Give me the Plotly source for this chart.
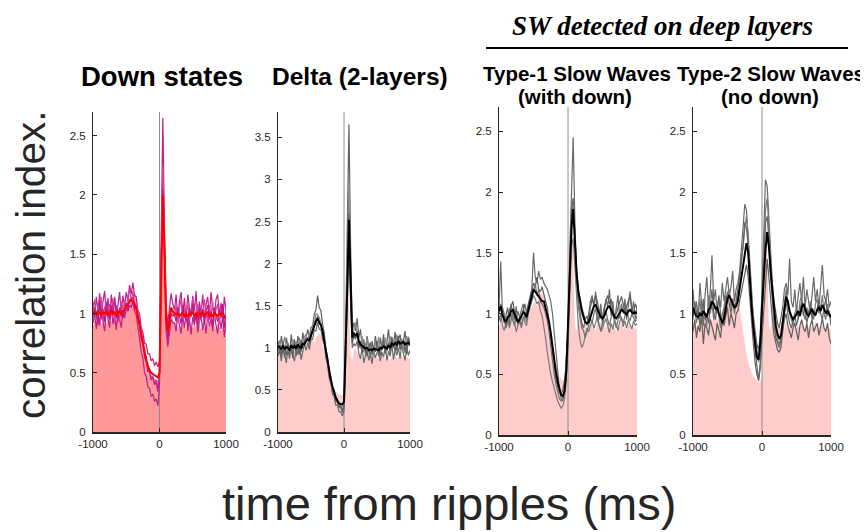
import plotly.graph_objects as go

# page body adds an 8px margin, so the figure is drawn 8px smaller and all pixel positions shifted
PAGE_OFF = 8
W, H = 868 - PAGE_OFF, 532 - PAGE_OFF
time_ms = list(range(-1000, 1001, 25))

# reference curve drawn as filled background in every panel
fill_ref = [0.9,0.95,0.88,0.92,0.97,0.9,0.94,0.98,0.91,0.95,0.99,0.93,0.96,1.0,0.94,0.98,1.02,0.97,1.03,
            1.05,1.08,1.1,1.06,1.12,1.15,1.18,
            1.15,1.05,0.95,0.85,0.74,0.66,0.6,0.55,0.51,0.48,0.46,0.45,0.44,0.44,
            0.48,1.45,2.02,1.5,0.9,0.86,0.96,1.0,0.95,
            0.9,0.93,0.87,0.92,0.88,0.94,0.9,0.86,0.92,0.89,0.93,0.87,0.91,0.88,0.94,0.9,0.86,0.92,0.89,0.85,
            0.91,0.88,0.93,0.87,0.9,0.86,0.92,0.88,0.85,0.9,0.87,0.88]

# Panel 1: Down states
down_lines = [
    [1.1,0.97,1.14,1.02,1.17,0.95,1.1,1.19,0.99,1.13,0.96,1.16,1.03,1.14,0.96,1.1,1.18,1.01,1.15,
     1.06,1.18,1.1,1.24,1.16,1.26,1.15,
     1.14,1.02,1.0,0.88,0.84,0.75,0.74,0.66,0.66,0.6,0.62,0.56,0.59,0.55,
     0.6,1.6,2.65,1.7,1.05,0.92,1.05,1.17,1.08,
     1.03,1.16,0.96,1.1,1.18,0.99,1.13,0.94,1.16,1.05,0.97,1.15,1.02,1.19,0.95,1.1,1.0,1.16,0.94,1.08,
     1.14,0.97,1.18,1.04,0.96,1.12,1.16,0.99,1.09,0.95,1.14,1.02],
    [0.92,1.0,0.87,1.02,0.9,1.06,0.93,0.85,1.03,0.95,0.88,1.05,0.91,0.99,0.86,1.02,0.94,0.88,1.03,
     0.96,1.04,1.02,1.07,1.05,1.1,1.02,
     0.99,0.88,0.82,0.68,0.62,0.5,0.47,0.38,0.37,0.3,0.32,0.26,0.28,0.22,
     0.4,1.3,2.3,1.5,0.85,0.72,0.85,0.95,0.92,
     0.92,0.85,0.99,0.9,0.83,0.98,0.88,1.0,0.85,0.95,0.82,0.97,0.9,1.0,0.84,0.93,0.98,0.86,0.95,0.83,
     0.99,0.89,0.96,0.85,1.0,0.9,0.83,0.97,0.87,0.98,0.8,0.93],
    [1.03,1.12,0.95,1.07,1.0,1.14,0.93,1.05,1.1,0.96,1.08,1.0,1.13,0.92,1.07,1.01,0.95,1.1,1.04,
     1.1,1.03,1.15,1.2,1.1,1.19,1.08,
     1.08,0.98,0.94,0.82,0.78,0.66,0.64,0.54,0.54,0.46,0.47,0.42,0.44,0.38,
     0.45,1.5,2.25,1.6,1.0,0.82,0.95,1.05,1.0,
     0.97,1.07,0.92,1.04,1.12,0.95,1.05,0.98,1.1,0.93,1.03,1.13,0.95,1.02,1.08,0.92,1.05,0.97,1.12,1.0,
     0.93,1.07,0.98,1.1,0.95,1.03,1.08,0.92,1.05,1.0,0.95,1.03],
    [0.97,1.05,1.0,0.9,1.1,0.98,1.04,0.93,1.08,1.0,0.95,1.07,0.98,1.12,1.01,0.93,1.05,1.0,0.96,
     1.02,1.09,1.02,1.12,1.12,1.13,1.04,
     1.05,0.94,0.9,0.78,0.74,0.63,0.6,0.51,0.51,0.44,0.46,0.4,0.42,0.34,
     0.5,1.4,2.05,1.45,0.9,0.78,0.9,1.0,0.98,
     1.0,0.93,1.05,0.98,0.91,1.07,0.96,1.02,0.9,1.04,0.98,1.08,0.93,1.0,0.88,1.05,0.96,1.04,0.91,1.02,
     1.07,0.95,1.0,0.9,1.05,0.98,0.93,1.04,0.96,1.08,0.88,0.98],
]
down_mean = [1.0,1.01,0.99,1.02,1.0,0.99,1.01,1.0,1.02,0.99,1.0,1.03,1.0,1.01,0.98,1.02,1.01,0.99,1.02,
             1.04,1.07,1.08,1.1,1.11,1.1,1.08,
             1.04,0.98,0.9,0.82,0.74,0.67,0.61,0.56,0.52,0.5,0.49,0.48,0.47,0.46,
             0.5,1.45,2.0,1.55,0.95,0.85,0.95,1.05,1.02,
             1.0,0.99,1.0,0.98,0.99,1.01,0.98,1.0,0.97,1.0,0.99,1.01,0.98,1.0,0.97,1.0,0.99,1.01,0.98,1.0,
             1.01,0.98,1.0,0.97,1.01,0.99,0.98,1.0,0.99,1.01,0.97,0.98]

# Panel 2: Delta (2-layers)
delta_lines = [
    [1.08,0.93,1.14,1.0,0.88,1.12,1.03,0.92,1.16,0.99,1.1,0.9,1.14,1.04,0.95,1.18,1.06,1.12,1.22,
     1.12,1.24,1.26,1.4,1.45,1.62,1.48,
     1.44,1.28,1.18,0.98,0.9,0.72,0.67,0.53,0.5,0.4,0.39,0.3,0.3,0.23,
     0.3,1.2,2.4,3.65,2.2,1.2,1.3,1.2,1.35,
     1.12,1.22,1.0,1.1,0.92,1.14,0.99,0.88,1.08,0.96,1.14,1.02,0.9,1.12,0.99,1.16,0.93,1.07,1.22,0.99,
     1.13,1.04,1.19,0.96,1.1,1.16,0.99,1.08,1.2,0.92,1.13,1.06],
    [0.9,0.99,0.84,1.01,0.93,0.82,0.97,0.87,1.04,0.91,0.84,1.0,0.92,1.02,0.86,0.96,1.05,0.97,1.06,
     0.98,1.1,1.1,1.21,1.2,1.3,1.22,
     1.22,1.1,1.04,0.88,0.8,0.64,0.58,0.45,0.42,0.32,0.32,0.24,0.24,0.19,
     0.25,0.8,1.6,2.3,1.5,1.0,1.05,1.02,1.08,
     0.93,0.87,1.01,0.82,0.93,0.99,0.85,0.92,0.81,0.97,0.88,0.93,1.0,0.84,0.95,0.89,1.02,0.85,0.96,0.9,
     1.04,0.86,0.98,0.91,1.0,0.87,1.05,0.93,0.85,1.01,0.91,0.97],
    [1.0,1.09,0.95,1.05,1.13,0.98,1.06,1.0,0.92,1.1,1.01,1.08,0.96,1.12,1.03,1.0,1.13,1.16,1.08,
     1.17,1.08,1.25,1.28,1.4,1.4,1.36,
     1.3,1.24,1.08,0.98,0.81,0.74,0.6,0.55,0.44,0.42,0.34,0.35,0.28,0.3,
     0.34,1.0,2.0,3.0,1.9,1.15,1.22,1.3,1.12,
     1.07,0.99,1.14,0.95,1.04,1.11,0.96,1.06,1.0,0.93,1.09,0.99,1.13,0.95,1.06,1.01,1.12,0.96,1.04,1.14,
     0.99,1.09,0.98,1.16,1.05,0.99,1.11,0.96,1.07,1.14,1.02,1.09],
    [0.97,1.03,0.9,1.07,0.99,0.91,1.05,0.95,1.0,0.88,1.06,0.97,1.02,0.92,1.09,0.99,1.03,1.1,1.12,
     1.04,1.16,1.18,1.27,1.28,1.38,1.28,
     1.27,1.16,1.1,0.93,0.84,0.68,0.62,0.49,0.46,0.36,0.36,0.29,0.31,0.25,
     0.32,0.95,1.8,2.6,1.7,1.05,1.15,1.1,1.2,
     1.0,1.08,0.94,1.03,0.97,0.9,1.0,1.06,0.92,1.02,0.95,1.08,0.99,0.91,1.03,1.09,0.95,1.0,1.06,0.94,
     1.11,1.01,0.97,1.07,1.14,0.98,1.04,1.1,0.94,1.06,1.11,1.02],
]
delta_mean = [1.02,1.0,0.99,1.03,0.98,1.01,1.0,0.97,1.03,1.0,1.02,0.99,1.04,1.01,1.0,1.05,1.04,1.08,1.1,
              1.09,1.14,1.2,1.26,1.32,1.35,1.3,
              1.27,1.2,1.08,0.96,0.84,0.72,0.62,0.54,0.47,0.41,0.37,0.34,0.33,0.33,
              0.36,0.95,1.7,2.52,1.75,1.12,1.18,1.14,1.17,
              1.08,1.04,1.02,1.0,0.99,1.0,0.97,0.98,0.97,0.99,0.98,0.98,0.97,1.0,0.99,1.02,1.0,0.99,1.03,1.0,
              1.05,1.03,1.06,1.04,1.08,1.05,1.06,1.07,1.04,1.05,1.06,1.04]

# Panel 3: Type-1 slow waves (with down)
sw1_lines = [
    [1.05,1.43,1.0,0.92,0.98,1.05,0.9,1.08,1.0,0.95,1.06,0.9,0.98,1.03,1.08,0.96,1.02,1.1,1.15,
     1.2,1.5,1.3,1.25,1.35,1.28,1.3,
     1.25,1.22,1.2,1.15,1.1,1.0,0.85,0.68,0.5,0.38,0.3,0.28,0.35,0.6,
     0.9,1.5,2.1,2.45,1.75,1.3,1.1,1.0,0.92,
     0.88,0.95,0.9,1.0,1.1,1.15,1.05,1.18,1.0,0.95,1.08,0.9,1.02,1.12,1.05,1.2,0.98,1.1,0.94,1.05,
     1.15,0.96,1.08,1.0,1.12,0.95,1.06,1.18,1.0,1.1,0.96,1.05],
    [0.95,1.0,0.9,0.86,0.92,0.98,0.88,0.95,1.0,0.92,0.85,0.9,0.94,0.88,0.97,0.93,0.9,1.0,1.05,
     1.1,1.15,1.12,1.08,1.1,1.02,0.98,
     0.9,0.8,0.68,0.58,0.5,0.44,0.38,0.33,0.28,0.25,0.22,0.24,0.3,0.45,
     0.7,1.15,1.55,1.62,1.35,1.1,0.9,0.78,0.72,
     0.75,0.82,0.88,0.85,0.9,0.95,0.88,0.92,0.98,0.9,0.85,0.88,0.93,0.96,0.9,0.84,0.92,0.87,0.95,0.9,
     0.86,0.93,0.97,0.89,0.94,0.88,0.95,0.91,0.87,0.94,0.9,0.92],
    [1.0,1.08,1.02,0.97,0.9,0.95,1.03,1.06,1.1,1.02,0.98,0.94,0.92,0.97,1.04,1.08,1.0,1.06,1.12,
     1.18,1.25,1.22,1.3,1.2,1.18,1.22,
     1.15,1.1,1.05,0.95,0.82,0.68,0.56,0.46,0.4,0.35,0.34,0.37,0.45,0.6,
     0.85,1.35,1.85,1.95,1.65,1.35,1.2,1.12,1.05,
     1.0,0.95,0.98,0.94,1.05,1.12,1.08,1.15,1.1,1.03,1.0,0.97,1.05,1.1,1.15,1.08,1.12,1.02,0.98,1.0,
     1.05,1.1,1.14,1.08,1.02,1.06,1.1,1.15,1.05,1.0,1.08,1.04],
    [0.98,0.93,1.05,1.0,0.88,0.92,0.96,1.0,0.94,0.9,0.97,1.02,0.96,0.9,0.95,1.0,0.93,1.04,1.1,
     1.12,1.18,1.25,1.15,1.2,1.1,1.08,
     1.05,1.0,0.94,0.85,0.72,0.6,0.5,0.42,0.36,0.3,0.28,0.3,0.38,0.5,
     0.78,1.25,1.75,1.9,1.55,1.25,1.05,0.95,0.88,
     0.86,0.8,0.85,0.9,0.96,0.92,1.0,1.04,0.95,0.9,0.86,0.92,0.98,1.02,0.95,0.9,0.97,1.0,0.93,0.88,
     0.95,1.0,0.96,0.92,0.98,1.04,0.97,0.94,1.0,0.96,0.93,0.98],
]
sw1_mean = [1.02,1.06,0.99,0.95,0.93,0.97,0.98,1.02,1.03,0.99,0.96,0.93,0.95,0.98,1.01,1.0,0.97,1.03,1.08,
            1.15,1.2,1.18,1.16,1.14,1.12,1.1,
            1.1,1.05,1.0,0.93,0.84,0.72,0.62,0.52,0.44,0.37,0.33,0.32,0.36,0.52,
            0.85,1.3,1.7,1.86,1.6,1.33,1.18,1.08,1.02,
            0.97,0.93,0.92,0.93,0.97,1.02,1.06,1.07,1.04,1.0,0.97,0.96,0.98,1.02,1.05,1.06,1.03,0.99,0.97,0.96,
            0.98,1.01,1.03,1.02,1.0,0.99,1.02,1.03,1.01,1.0,1.01,1.0]

# Panel 4: Type-2 slow waves (no down)
sw2_lines = [
    [1.2,1.0,1.1,0.95,1.25,1.05,0.9,1.15,1.3,1.05,1.18,1.48,1.1,1.2,1.0,1.15,1.05,1.25,1.1,
     1.2,1.3,1.15,1.22,1.35,1.1,1.2,
     1.25,1.35,1.5,1.7,1.9,1.85,1.6,1.35,1.15,0.98,0.85,0.75,0.7,0.82,
     1.2,1.6,2.1,2.05,1.8,1.45,1.25,1.1,1.0,
     0.92,0.88,0.95,1.05,1.2,1.25,1.15,1.45,1.1,1.05,1.2,1.0,1.15,1.25,1.1,1.3,1.05,1.2,1.1,1.0,
     1.15,1.3,1.1,1.2,1.05,1.25,1.4,1.15,1.1,1.2,1.05,1.1],
    [0.85,0.95,0.8,0.9,0.85,0.98,0.75,0.92,0.88,0.82,0.95,0.9,0.85,0.78,0.92,0.87,0.8,0.95,0.9,
     0.98,1.05,0.9,1.0,0.95,0.88,1.0,
     1.02,1.1,1.18,1.25,1.35,1.4,1.3,1.1,0.92,0.75,0.6,0.5,0.45,0.55,
     0.8,1.05,1.3,1.45,1.3,1.1,0.95,0.82,0.75,
     0.7,0.68,0.72,0.85,0.95,1.0,0.9,0.85,0.8,0.88,0.92,0.85,0.78,0.9,0.95,0.88,0.85,0.92,0.8,0.9,
     0.95,0.85,0.88,0.92,0.82,0.9,0.96,0.88,0.85,0.92,0.8,0.75],
    [1.1,1.05,0.92,1.0,1.12,0.95,1.08,1.0,0.9,1.15,1.0,1.08,0.95,1.02,1.1,0.98,0.88,1.0,1.05,
     1.15,1.1,1.2,1.05,1.1,1.0,1.08,
     1.15,1.28,1.4,1.55,1.7,1.8,1.65,1.4,1.15,0.95,0.8,0.68,0.6,0.68,
     0.95,1.4,1.85,1.95,1.7,1.4,1.15,0.95,0.85,
     0.78,0.75,0.8,0.95,1.1,1.2,1.05,1.0,0.95,0.9,1.0,1.05,0.95,1.1,1.15,1.0,0.95,1.05,0.98,1.1,
     1.02,0.95,1.08,1.12,1.0,1.05,1.15,1.0,0.95,1.08,1.0,0.95],
    [0.95,1.1,1.0,1.05,0.9,1.02,1.12,0.95,1.0,0.92,1.08,1.2,1.0,0.95,1.05,1.12,1.0,0.9,1.02,
     1.1,1.18,1.08,1.0,1.12,1.05,1.1,
     1.2,1.3,1.45,1.55,1.75,1.7,1.55,1.3,1.05,0.85,0.7,0.55,0.45,0.6,
     0.9,1.35,1.75,1.8,1.6,1.3,1.1,0.92,0.8,
     0.75,0.72,0.78,0.9,1.0,1.1,1.0,0.92,0.88,0.95,1.0,0.9,0.95,1.02,1.1,0.98,1.05,0.92,1.0,1.08,
     0.95,1.02,0.98,1.05,1.1,1.0,0.95,1.05,1.12,0.98,1.02,0.9],
]
sw2_mean = [1.05,1.0,0.98,0.97,1.0,0.98,1.02,1.0,0.97,1.03,1.05,1.1,1.08,1.04,1.05,1.0,0.95,0.92,0.96,
            1.05,1.12,1.15,1.12,1.08,1.05,1.06,
            1.1,1.2,1.3,1.4,1.52,1.58,1.5,1.22,1.05,0.88,0.74,0.64,0.62,0.76,
            1.05,1.3,1.52,1.67,1.55,1.35,1.2,1.0,0.9,
            0.83,0.79,0.82,0.92,1.05,1.14,1.1,1.02,0.98,0.95,0.97,1.0,1.02,0.98,1.05,1.08,1.03,1.0,0.98,1.01,
            1.04,1.0,0.99,1.03,1.05,1.02,1.07,1.04,1.0,1.02,0.99,0.97]

panel_titles = [["Down states"], ["Delta (2-layers)"],
                ["Type-1 Slow Waves", "(with down)"], ["Type-2 Slow Waves", "(no down)"]]
y_max = [2.7, 3.8, 2.7, 2.7]
y_tick_vals = [[0, 0.5, 1, 1.5, 2, 2.5], [0, 0.5, 1, 1.5, 2, 2.5, 3, 3.5],
               [0, 0.5, 1, 1.5, 2, 2.5], [0, 0.5, 1, 1.5, 2, 2.5]]
x_tick_vals = [-1000, 0, 1000]
group_title = "SW detected on deep layers"
y_label = "correlation index."
x_label = "time from ripples (ms)"

panels = [
    (down_lines, down_mean),
    (delta_lines, delta_mean),
    (sw1_lines, sw1_mean),
    (sw2_lines, sw2_mean),
]
for lines, mean in panels:
    for s in lines + [mean]:
        assert len(s) == len(time_ms), len(s)
assert len(fill_ref) == len(time_ms)

# ---- styling / layout (target pixel positions in the 868x532 window) ----
boxes = [(93, 226, 112, 432), (278, 410, 112, 432), (499, 637, 107, 435), (693, 831, 107, 435)]
fill_colors = ["#FF9999", "#FFCCCC", "#FFCCCC", "#FFCCCC"]
line_colors = [["#C8198E", "#C2208A", "#D0489E", "#BE1A86"], ["#5E5E5E", "#6A6A6A", "#8A8A8A", "#606060"],
               ["#6A6A6A", "#7A7A7A", "#5E5E5E", "#707070"], ["#6A6A6A", "#5E5E5E", "#787878", "#666666"]]
mean_colors = ["#FF0000", "#000000", "#000000", "#000000"]
FONT = "Liberation Sans, Arial, Helvetica, sans-serif"
AX = "#262626"


def px_x(x):
    return (x - PAGE_OFF) / W


def px_y(y):
    return 1 - (y - PAGE_OFF) / H


fig = go.Figure()
layout = dict(width=W, height=H, margin=dict(l=0, r=0, t=0, b=0, pad=0, autoexpand=False),
              paper_bgcolor="white", plot_bgcolor="white", showlegend=False,
              font=dict(family=FONT, color=AX))

for k, (lines, mean) in enumerate(panels):
    n = "" if k == 0 else str(k + 1)
    xa, ya = "x" + n, "y" + n
    x0, x1, y0, y1 = boxes[k]
    fig.add_trace(go.Scatter(x=time_ms, y=fill_ref, mode="lines", fill="tozeroy",
                             fillcolor=fill_colors[k], line=dict(width=0, color=fill_colors[k]),
                             xaxis=xa, yaxis=ya, hoverinfo="skip"))
    fig.add_trace(go.Scatter(x=[0, 0], y=[0, y_max[k]], mode="lines",
                             line=dict(color="#8C8C8C", width=1), xaxis=xa, yaxis=ya, hoverinfo="skip"))
    for j, s in enumerate(lines):
        fig.add_trace(go.Scatter(x=time_ms, y=s, mode="lines",
                                 line=dict(color=line_colors[k][j], width=1.2),
                                 xaxis=xa, yaxis=ya))
    fig.add_trace(go.Scatter(x=time_ms, y=mean, mode="lines",
                             line=dict(color=mean_colors[k], width=2),
                             xaxis=xa, yaxis=ya))
    layout["xaxis" + n] = dict(domain=[px_x(x0), px_x(x1)], anchor=ya, range=[-1000, 1000],
                               tickvals=x_tick_vals, ticktext=[str(v) for v in x_tick_vals],
                               ticks="inside", ticklen=4, tickcolor=AX, showline=True,
                               linecolor=AX, linewidth=1.5, showgrid=False, zeroline=False,
                               automargin=False,
                               tickfont=dict(size=11.5, color=AX, family=FONT))
    layout["yaxis" + n] = dict(domain=[px_y(y1), px_y(y0)], anchor=xa, range=[0, y_max[k]],
                               tickvals=y_tick_vals[k], ticktext=[f"{v:g}" for v in y_tick_vals[k]],
                               ticks="inside", ticklen=4, tickcolor=AX, showline=True,
                               linecolor=AX, linewidth=1, showgrid=False, zeroline=False,
                               ticklabelstandoff=4, automargin=False,
                               tickfont=dict(size=11.5, color=AX, family=FONT))

ann = []
title_pos = [[(161.5, 77, 27.5)], [(360, 77, 24.5)],
             [(576.5, 74, 20.5), (575, 96, 20.5)], [(771, 74, 20.5), (770, 96, 20.5)]]
for k, lines_t in enumerate(panel_titles):
    for txt, (cx, cy, sz) in zip(lines_t, title_pos[k]):
        ann.append(dict(text="<b>" + txt + "</b>", x=px_x(cx), y=px_y(cy), xref="paper", yref="paper",
                        xanchor="center", yanchor="middle", showarrow=False,
                        font=dict(size=sz, color="black", family=FONT)))
ann.append(dict(text="<b><i>" + group_title + "</i></b>", x=px_x(662), y=px_y(26), xref="paper",
                yref="paper", xanchor="center", yanchor="middle", showarrow=False,
                font=dict(size=27, color="black", family="Liberation Serif, Times New Roman, serif")))
ann.append(dict(text=y_label, x=px_x(31), y=px_y(265), xref="paper", yref="paper", textangle=-90,
                xanchor="center", yanchor="middle", showarrow=False,
                font=dict(size=40.5, color=AX, family=FONT)))
ann.append(dict(text=x_label, x=px_x(449), y=px_y(503), xref="paper", yref="paper",
                xanchor="center", yanchor="middle", showarrow=False,
                font=dict(size=47, color=AX, family=FONT)))
layout["annotations"] = ann
layout["shapes"] = [dict(type="line", xref="paper", yref="paper", x0=px_x(486), x1=px_x(848),
                         y0=px_y(48), y1=px_y(48), line=dict(color="black", width=2))]

fig.update_layout(**layout)
fig.write_html("out.html")
